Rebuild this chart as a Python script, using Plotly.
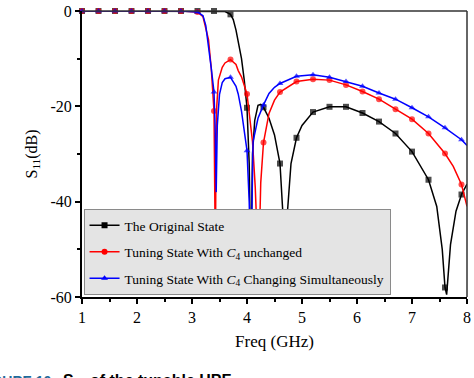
import plotly.graph_objects as go

# ---------------- data ----------------
freq_orig = [1.0, 1.3, 1.6, 1.9, 2.2, 2.5, 2.8, 3.1, 3.4, 3.6, 3.7, 3.75, 3.8, 3.85, 3.9, 3.95,
             4.0, 4.04, 4.07, 4.1, 4.14, 4.2, 4.25, 4.3, 4.4, 4.5, 4.6, 4.65, 4.69, 4.73, 4.8,
             4.9, 5.0, 5.2, 5.5, 5.8, 6.1, 6.4, 6.7, 7.0, 7.3, 7.45, 7.55, 7.6, 7.63, 7.7,
             7.8, 7.9, 8.0]
s11_orig = [0, 0, 0, 0, 0, 0, 0, 0, 0, -0.1, -0.7, -1.8, -4, -7, -10, -14.5,
            -20.3, -32, -55, -30, -23, -19.8, -19.6, -20.2, -22.5, -26, -32, -42, -59, -43, -32,
            -26.6, -24, -21.2, -20.1, -20.1, -21.4, -23.2, -25.7, -29.5, -35.4, -41, -50, -58, -59.5, -49,
            -42, -38.5, -36.3]

freq_tune = [1.0, 1.3, 1.6, 1.9, 2.2, 2.5, 2.8, 3.1, 3.2, 3.3, 3.35, 3.4, 3.415, 3.425, 3.435,
             3.45, 3.48, 3.55, 3.6, 3.7, 3.8, 3.84, 3.9, 4.0, 4.1, 4.15, 4.21, 4.25, 4.3, 4.4,
             4.5, 4.6, 4.9, 5.2, 5.5, 5.8, 6.1, 6.4, 6.7, 7.0, 7.3, 7.6, 7.75, 7.9, 8.0]
s11_tune = [0, 0, 0, 0, 0, 0, 0, -0.2, -1.2, -6, -12, -21, -35, -52, -32,
            -20, -14.5, -11.8, -10.9, -10.2, -11.2, -12.5, -13.8, -17.4, -27.4, -37, -55, -36, -27.6, -21.5,
            -18.7, -17, -14.8, -14.3, -14.5, -15.5, -16.9, -18.5, -20.6, -22.7, -25.7, -29.9, -32.6, -36.4, -41]

freq_sim = [1.0, 1.3, 1.6, 1.9, 2.2, 2.5, 2.8, 3.1, 3.2, 3.25, 3.3, 3.35, 3.4, 3.42, 3.44,
            3.46, 3.5, 3.55, 3.6, 3.7, 3.8, 3.84, 3.9, 4.0, 4.04, 4.07, 4.11, 4.15, 4.2, 4.3,
            4.4, 4.5, 4.6, 4.9, 5.2, 5.5, 5.8, 6.1, 6.4, 6.7, 7.0, 7.3, 7.6, 7.9, 8.0]
s11_sim = [0, 0, 0, 0, 0, 0, 0, -0.2, -1, -3, -7, -12, -17, -24, -38,
           -24, -17.5, -15, -14.2, -13.9, -15.8, -17.4, -21, -29.3, -40, -55, -27.4, -25, -22.5, -19.7,
           -17.3, -16, -15.2, -13.7, -13.4, -13.9, -14.8, -15.8, -17.2, -18.5, -20.3, -22.2, -24.5, -27.0, -28.2]

series_names = ["The Original State",
                "Tuning State With <i>C</i><sub>4</sub> unchanged",
                "Tuning State With <i>C</i><sub>4</sub> Changing Simultaneously"]

x_ticks = [1, 2, 3, 4, 5, 6, 7, 8]
y_ticks = [-60, -40, -20, 0]

caption = ('<b><span style="color:#1f6a9a">FIGURE 10</span>&nbsp;&nbsp;&nbsp;'
           '<span style="font-size:16px">S<sub>11</sub> of the tunable HPF</span></b>')

# ---------------- style ----------------
FONT = "Liberation Serif"
styles = [("#000000", "square"), ("#ff0000", "circle"), ("#0000ff", "triangle-up")]
datasets = [(freq_orig, s11_orig), (freq_tune, s11_tune), (freq_sim, s11_sim)]


def marker_sizes(freqs, size):
    out = []
    for f in freqs:
        k = (f - 1.0) / 0.3
        out.append(size if abs(k - round(k)) < 1e-6 else 0)
    return out


fig = go.Figure()
for (fx, fy), (col, sym) in zip(datasets, styles):
    fig.add_trace(go.Scatter(
        x=fx, y=fy, mode="lines+markers", showlegend=False, cliponaxis=False,
        line=dict(color=col, width=1.5),
        marker=dict(color=col, symbol=sym, size=marker_sizes(fx, 6), line=dict(width=0)),
    ))

for i, (name, (col, sym)) in enumerate(zip(series_names, styles)):
    fig.add_trace(go.Scatter(
        x=[None], y=[None], mode="lines+markers", name=name, legendgroup=str(i),
        line=dict(color=col, width=1.5),
        marker=dict(color=col, symbol=sym, size=6),
    ))

fig.update_layout(
    width=474, height=378,
    margin=dict(l=82, r=3, t=8, b=81),
    paper_bgcolor="white", plot_bgcolor="white",
    font=dict(family=FONT, size=16, color="black"),
    showlegend=True,
    legend=dict(
        x=0.004, y=0.007, xanchor="left", yanchor="bottom",
        bgcolor="#e4e4e4", bordercolor="#8a8a8a", borderwidth=1,
        font=dict(family=FONT, size=13.5, color="black"),
        traceorder="grouped", tracegroupgap=6,
    ),
    shapes=[
        dict(type="line", xref="paper", yref="paper", x0=0, x1=1, y0=1, y1=1,
             line=dict(color="#333333", width=1.5)),
        dict(type="line", xref="paper", yref="paper", x0=1, x1=1, y0=0, y1=1,
             line=dict(color="#333333", width=1.5)),
    ],
    annotations=[
        dict(xref="paper", yref="paper", x=-0.272, y=-0.255, xanchor="left", yanchor="top",
             showarrow=False, text=caption,
             font=dict(family="Liberation Sans", size=14, color="black")),
    ],
)

fig.update_xaxes(
    range=[1, 8], tickvals=x_ticks, ticktext=[str(v) for v in x_ticks],
    showgrid=False, zeroline=False, ticklabeloverflow="allow",
    showline=True, linecolor="black", linewidth=2,
    ticks="outside", ticklen=5, tickwidth=1.5, tickcolor="black",
    minor=dict(dtick=0.5, ticks="outside", ticklen=3, tickwidth=1.5, tickcolor="black"),
    title=dict(text="Freq (GHz)", font=dict(family=FONT, size=17), standoff=10),
    tickfont=dict(family=FONT, size=16),
)
fig.update_yaxes(
    range=[-60, 0], tickvals=y_ticks, ticktext=[str(v) for v in y_ticks],
    showgrid=False, zeroline=False, ticklabeloverflow="allow",
    showline=True, linecolor="black", linewidth=2,
    ticks="outside", ticklen=5, tickwidth=1.5, tickcolor="black",
    minor=dict(dtick=10, ticks="outside", ticklen=3, tickwidth=1.5, tickcolor="black"),
    title=dict(text="S<sub>11</sub>(dB)", font=dict(family=FONT, size=16), standoff=9),
    tickfont=dict(family=FONT, size=16),
)

fig.write_html("out.html", config={"displayModeBar": False},
               post_script="document.body.style.margin='0';")
